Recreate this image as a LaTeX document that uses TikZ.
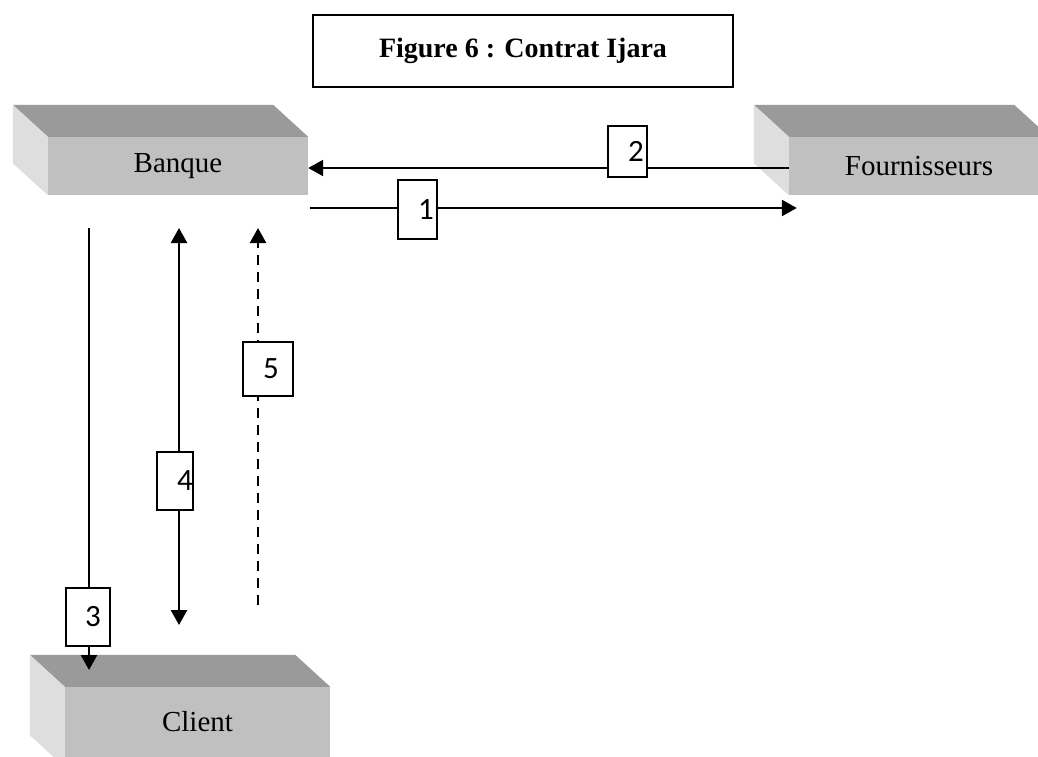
\documentclass[tikz,border=0pt]{standalone}
\usepackage{fontspec}
\setmainfont{Liberation Serif}
\newfontfamily\numfont{Carlito}
\usetikzlibrary{arrows.meta}

\definecolor{topgrey}{HTML}{9A9A9A}
\definecolor{frontgrey}{HTML}{C0C0C0}
\definecolor{sidegrey}{HTML}{DEDEDE}

\tikzset{
  face/.style={fill=frontgrey, inner sep=0pt, minimum width=260pt, minimum height=58pt,
    font=\fontsize{29}{34}\selectfont},
  flow/.style={line width=2.5pt, -{Triangle[length=15pt,width=16pt]}},
  tag/.style={draw, line width=1.5pt, fill=white, inner sep=0pt,
    font=\numfont\fontsize{31}{34}\selectfont},
}

% top and left faces of a crate, depth 35 x 32
\newcommand{\cratesides}[1]{%
  \fill[topgrey] (#1.north west) -- ([shift={(-35,-32)}]#1.north west)
    -- ([shift={(-35,-32)}]#1.north east) -- (#1.north east) -- cycle;
  \fill[sidegrey] (#1.north west) -- ([shift={(-35,-32)}]#1.north west)
    -- ([shift={(-35,-32)}]#1.south west) -- (#1.south west) -- cycle;
}

\begin{document}
\begin{tikzpicture}[x=1pt, y=-1pt]
    \path[use as bounding box, clip] (0,0) rectangle (1038,756);

    % title
    \node[draw, line width=1.5pt, minimum width=420pt, minimum height=72pt,
      font=\bfseries\fontsize{28}{32}\selectfont] (title) at (523,51) {Figure 6 : Contrat Ijara};

    % the three parties
    \node[face] (banque) at (178,166) {Banque};
    \node[face] (fourn) at (919,166) {Fournisseurs};
    \node[face, minimum width=265pt, minimum height=80pt] (client) at (197.5,727) {\raisebox{11pt}{Client}};
    \cratesides{banque}
    \cratesides{fourn}
    \cratesides{client}

    % free ends of the flows
    \coordinate (b1) at ([shift={(2,42)}]banque.east);
    \coordinate (f1) at ([shift={(8,42)}]fourn.west);
    \coordinate (b3) at (89,228);
    \coordinate (c3) at (89,670);
    \coordinate (b4) at (179,228);
    \coordinate (c4) at (179,625);
    \coordinate (b5) at (258,228);
    \coordinate (c5) at (258,605);

    % flows between bank, suppliers and client
    \draw[flow] ([yshift=-2]fourn.west) -- ([yshift=-2]banque.east);
    \draw[flow] (b1) -- (f1);
    \draw[flow] (b3) -- (c3);
    \draw[flow, {Triangle[length=15pt,width=16pt]}-{Triangle[length=15pt,width=16pt]}] (b4) -- (c4);
    \draw[flow, dash pattern=on 10pt off 7pt] (c5) -- (b5);

    % numbered steps
    \node[tag, minimum width=39pt, minimum height=59pt] (t1) at (417.5,209.5) {\hspace*{17pt}1};
    \node[tag, minimum width=39pt, minimum height=51pt] (t2) at (627.5,151.5) {\hspace*{17pt}\raisebox{-4pt}{2}};
    \node[tag, minimum width=44pt, minimum height=58pt] (t3) at (88,617) {\hspace*{10pt}3};
    \node[tag, minimum width=36pt, minimum height=58pt] (t4) at (175,481) {\hspace*{20pt}4};
    \node[tag, minimum width=50pt, minimum height=54pt] (t5) at (268,369) {\hspace*{6pt}5};
\end{tikzpicture}
\end{document}
